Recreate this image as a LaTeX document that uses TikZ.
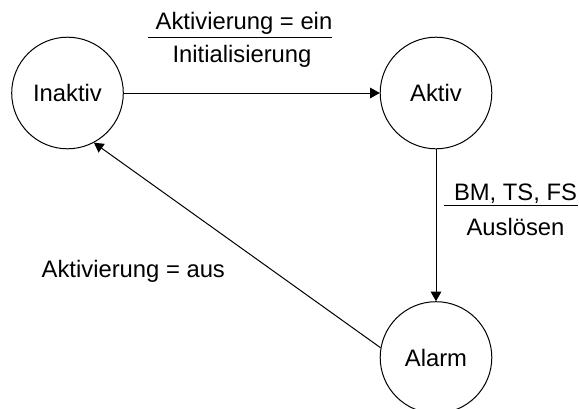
\documentclass[tikz,border=0pt]{standalone}
\usepackage{fontspec}
\setmainfont{Liberation Sans}
\usetikzlibrary{arrows.meta}
\begin{document}
\begin{tikzpicture}[
  x=1pt, y=-1pt,
  every node/.style={font=\fontsize{23.8}{28.5}\selectfont, text=black},
  state/.style={draw, circle, line width=1pt, minimum size=111.6pt, inner sep=0pt},
  lbl/.style={inner sep=0pt, anchor=base},
  conn/.style={draw, line width=1pt, -{Triangle[length=9.5pt, width=10.5pt]}},
  fracbar/.style={draw, line width=1pt}
]
\useasboundingbox (0,0) rectangle (579,408);

% states
\node[state] (inaktiv) at (67.5,93) {Inaktiv};
\node[state] (aktiv)   at (436,93)  {Aktiv};
\node[state] (alarm)   at (436,357.5) {Alarm};

% transitions
\draw[conn] (inaktiv) -- (aktiv);
\draw[conn] (aktiv) -- (alarm);
\draw[conn] (alarm.170) -- (inaktiv.298);

% transition labels
\node[lbl] (einL)  at (244,29) {Aktivierung = ein};
\node[lbl] (initL) at (242,62) {Initialisierung};
\coordinate (barA1) at (148,37.3);
\coordinate (barA2) at (332,37.3);
\draw[fracbar] (barA1) -- (barA2);

\node[lbl] (bmL)  at (515.5,200) {BM, TS, FS};
\node[lbl] (ausL) at (515.5,235.5) {Auslösen};
\coordinate (barB1) at (444,205);
\coordinate (barB2) at (578,205);
\draw[fracbar] (barB1) -- (barB2);

\node[lbl, anchor=base west] (ausAkt) at (41.5,277.7) {Aktivierung = aus};
\end{tikzpicture}
\end{document}
